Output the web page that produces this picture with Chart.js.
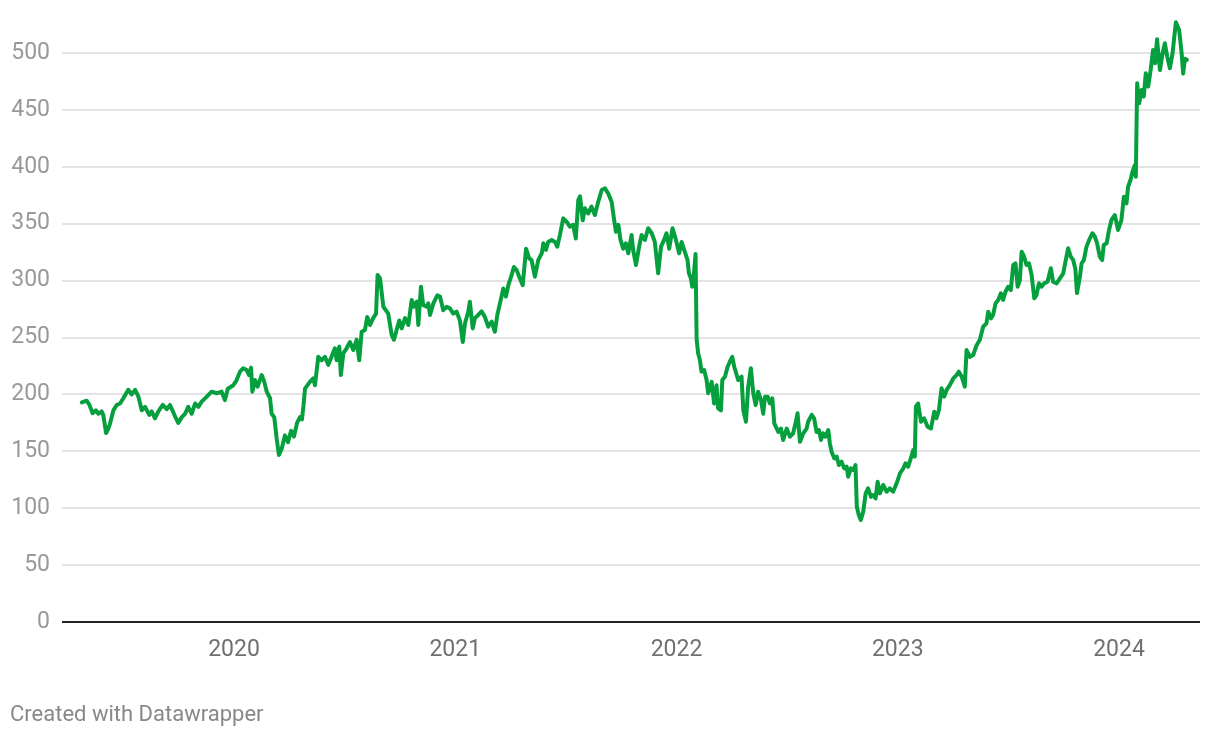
<!DOCTYPE html>
<html>
<head>
<meta charset="utf-8">
<script src="https://cdn.jsdelivr.net/npm/chart.js@4.4.1/dist/chart.umd.min.js"></script>
<style>
  body { margin: 0; background: #fff; }
  #wrap { position: relative; width: 1220px; height: 738px; }
  #credit {
    position: absolute; left: 10px; top: 701px;
    font: 22px Roboto, sans-serif; color: #888; line-height: 26px;
  }
</style>
</head>
<body>
<div id="wrap">
  <canvas id="priceChart" width="1220" height="738"></canvas>
  <div id="credit">Created with Datawrapper</div>
</div>
<script>
"use strict";

// dates as decimal years
const dates = [
  2019.312, 2019.334, 2019.346, 2019.361, 2019.376, 2019.387, 2019.402, 2019.409, 2019.422, 2019.432,
  2019.440, 2019.455, 2019.470, 2019.485, 2019.500, 2019.522, 2019.538, 2019.553, 2019.568, 2019.583,
  2019.598, 2019.617, 2019.628, 2019.643, 2019.658, 2019.678, 2019.696, 2019.711, 2019.733, 2019.748,
  2019.764, 2019.779, 2019.793, 2019.809, 2019.824, 2019.839, 2019.854, 2019.877, 2019.899, 2019.922,
  2019.944, 2019.959, 2019.972, 2019.997, 2020.012, 2020.027, 2020.042, 2020.057, 2020.068, 2020.077,
  2020.083, 2020.095, 2020.107, 2020.125, 2020.137, 2020.148, 2020.163, 2020.170, 2020.182, 2020.193,
  2020.203, 2020.216, 2020.230, 2020.244, 2020.258, 2020.271, 2020.285, 2020.298, 2020.307, 2020.314,
  2020.321, 2020.343, 2020.358, 2020.366, 2020.381, 2020.396, 2020.411, 2020.426, 2020.441, 2020.456,
  2020.464, 2020.476, 2020.483, 2020.494, 2020.509, 2020.524, 2020.539, 2020.554, 2020.566, 2020.577,
  2020.592, 2020.602, 2020.615, 2020.629, 2020.642, 2020.649, 2020.660, 2020.675, 2020.697, 2020.713,
  2020.723, 2020.735, 2020.747, 2020.758, 2020.773, 2020.788, 2020.803, 2020.813, 2020.826, 2020.833,
  2020.845, 2020.855, 2020.871, 2020.878, 2020.886, 2020.901, 2020.919, 2020.931, 2020.946, 2020.961,
  2020.976, 2020.991, 2021.006, 2021.021, 2021.034, 2021.044, 2021.059, 2021.066, 2021.079, 2021.089,
  2021.104, 2021.119, 2021.134, 2021.149, 2021.165, 2021.179, 2021.190, 2021.202, 2021.217, 2021.229,
  2021.240, 2021.255, 2021.265, 2021.278, 2021.289, 2021.305, 2021.320, 2021.334, 2021.345, 2021.360,
  2021.375, 2021.391, 2021.398, 2021.410, 2021.420, 2021.436, 2021.451, 2021.461, 2021.473, 2021.488,
  2021.503, 2021.518, 2021.533, 2021.545, 2021.556, 2021.564, 2021.576, 2021.586, 2021.601, 2021.616,
  2021.631, 2021.646, 2021.662, 2021.677, 2021.691, 2021.707, 2021.717, 2021.726, 2021.737, 2021.747,
  2021.759, 2021.771, 2021.782, 2021.797, 2021.804, 2021.817, 2021.831, 2021.842, 2021.857, 2021.872,
  2021.888, 2021.902, 2021.917, 2021.930, 2021.940, 2021.955, 2021.967, 2021.982, 2021.997, 2022.012,
  2022.023, 2022.038, 2022.050, 2022.056, 2022.065, 2022.071, 2022.079, 2022.086, 2022.091, 2022.098,
  2022.106, 2022.113, 2022.125, 2022.136, 2022.143, 2022.159, 2022.170, 2022.181, 2022.188, 2022.201,
  2022.207, 2022.219, 2022.231, 2022.241, 2022.252, 2022.261, 2022.279, 2022.294, 2022.302, 2022.314,
  2022.324, 2022.336, 2022.347, 2022.358, 2022.369, 2022.382, 2022.392, 2022.400, 2022.412, 2022.422,
  2022.433, 2022.442, 2022.460, 2022.472, 2022.482, 2022.498, 2022.513, 2022.527, 2022.538, 2022.547,
  2022.558, 2022.573, 2022.588, 2022.595, 2022.611, 2022.622, 2022.633, 2022.644, 2022.653, 2022.663,
  2022.674, 2022.686, 2022.693, 2022.701, 2022.713, 2022.724, 2022.734, 2022.746, 2022.758, 2022.769,
  2022.776, 2022.788, 2022.799, 2022.809, 2022.815, 2022.824, 2022.833, 2022.844, 2022.855, 2022.866,
  2022.879, 2022.889, 2022.900, 2022.909, 2022.919, 2022.934, 2022.950, 2022.964, 2022.979, 2022.995,
  2023.010, 2023.025, 2023.035, 2023.047, 2023.059, 2023.070, 2023.077, 2023.082, 2023.092, 2023.105,
  2023.119, 2023.135, 2023.150, 2023.165, 2023.175, 2023.186, 2023.198, 2023.210, 2023.221, 2023.236,
  2023.251, 2023.266, 2023.276, 2023.289, 2023.303, 2023.311, 2023.326, 2023.341, 2023.356, 2023.371,
  2023.386, 2023.401, 2023.409, 2023.421, 2023.431, 2023.442, 2023.454, 2023.466, 2023.476, 2023.487,
  2023.499, 2023.511, 2023.522, 2023.532, 2023.542, 2023.552, 2023.560, 2023.571, 2023.582, 2023.593,
  2023.605, 2023.617, 2023.627, 2023.638, 2023.650, 2023.662, 2023.677, 2023.692, 2023.702, 2023.718,
  2023.733, 2023.748, 2023.758, 2023.770, 2023.782, 2023.793, 2023.803, 2023.810, 2023.823, 2023.831,
  2023.841, 2023.853, 2023.865, 2023.880, 2023.891, 2023.901, 2023.913, 2023.924, 2023.931, 2023.944,
  2023.955, 2023.966, 2023.981, 2023.996, 2024.011, 2024.022, 2024.034, 2024.041, 2024.052, 2024.061,
  2024.072, 2024.076, 2024.082, 2024.091, 2024.102, 2024.112, 2024.121, 2024.132, 2024.143, 2024.154,
  2024.163, 2024.172, 2024.185, 2024.197, 2024.207, 2024.218, 2024.230, 2024.242, 2024.257, 2024.272,
  2024.283, 2024.290, 2024.298, 2024.307
];

const prices = [
  193, 194.5, 191, 183.5, 186, 183, 185, 182, 166, 170,
  174.6, 186, 190.7, 192, 196.6, 204, 200, 204, 198, 186,
  189, 182, 185, 179, 185, 190.7, 187, 190.7, 181, 175,
  180, 183, 189, 183, 192, 189, 193.6, 198, 202.4, 201,
  202.4, 195, 205, 208, 212.6, 220, 223, 221.4, 217, 223.5,
  202.4, 212.6, 206.8, 217, 211, 202.4, 196.6, 183, 180, 161,
  146.7, 152.6, 164, 158, 168, 163, 175, 180, 178, 190,
  205, 211, 214, 208, 233, 230, 233, 226, 233, 240.5,
  230, 242, 217, 236, 240.5, 246, 239, 248, 230, 255,
  256.6, 268, 261, 267, 271, 305, 302, 277, 271, 252,
  248, 256.6, 265, 258, 267, 261, 283, 277, 281.5, 261,
  294.6, 278.6, 277, 280, 269.8, 280, 287, 286, 274, 277,
  275.6, 271, 272.7, 265, 246, 262.5, 272.7, 281.5, 258, 267,
  269.8, 273, 268, 259.5, 264, 255, 269.8, 280, 293, 286,
  296, 305, 312, 309, 303.4, 296, 328, 319.6, 318, 303.4,
  318, 324, 332.8, 327, 334, 335.7, 334, 329.8, 340, 354.7,
  351.8, 347.4, 349, 337, 370.8, 374, 353, 363.5, 359, 365,
  357.6, 369, 379.6, 381, 376.7, 369, 354.7, 343, 349, 335.7,
  328, 332.8, 324, 340, 327, 313.7, 329.8, 340, 335.7, 346,
  341.6, 334, 306.4, 329.8, 334, 341.6, 328, 346, 336, 324,
  334, 325, 318, 306.4, 302, 294.6, 306.4, 323.4, 248, 236,
  230, 220, 221.4, 212.6, 201, 211, 192, 208, 187.8, 186,
  212.6, 215.6, 224.3, 228.7, 233, 224.3, 212.6, 215.6, 186, 176,
  206.8, 223, 201, 190.7, 202.4, 195, 183, 198, 198, 192,
  196.6, 174.6, 167, 170, 160, 170, 162.8, 165.8, 174.6, 183.4,
  158.4, 165.8, 170, 176, 182, 179, 167, 168.7, 160, 165.8,
  162.8, 168.7, 157, 149.6, 143.8, 145.3, 138, 140.9, 135, 136.5,
  127.7, 135, 133.6, 138, 101.3, 94, 89.6, 97, 113, 117.5,
  110, 111.6, 108.7, 123.3, 113, 120.4, 114.5, 117.5, 114.5, 121.9,
  130.7, 135, 139.5, 136.5, 143.8, 151, 145.3, 189.2, 192, 176,
  179, 171.6, 170, 184.8, 179, 186.3, 205.4, 198, 203.9, 208.3,
  214, 217, 220, 215.6, 206.8, 239, 233, 234.6, 243, 248,
  259.5, 262.5, 272.7, 266.8, 269.8, 280, 283, 288.8, 283, 290.2,
  294.6, 291.7, 313.7, 315.2, 294.6, 300.5, 325.4, 321, 313.7, 315.2,
  305, 284.4, 287.3, 297.6, 294.6, 297.6, 299, 310.8, 299, 297.6,
  302, 306.4, 316.7, 328.4, 321, 318, 310, 289, 303, 315.2,
  318, 329.8, 335.7, 341.6, 338.6, 332.8, 321, 318, 331.3, 332.8,
  344.5, 353.3, 357.6, 344.5, 353.3, 373.7, 367.9, 382.5, 388.4, 395.7,
  401.6, 391.3, 473.4, 455.8, 467.5, 461.6, 482.2, 470.5, 485.1, 502.7,
  491, 512, 485, 499.7, 508.5, 496.8, 486.6, 499.7, 527, 520,
  500, 482, 495, 494
];

const yearTicks = [2020, 2021, 2022, 2023, 2024];
const valueTicks = [0, 50, 100, 150, 200, 250, 300, 350, 400, 450, 500];

const lineGreen = "#05a03d";
const tickFont = { family: "Roboto", size: 23 };

const points = dates.map(function (d, i) {
  return { x: d, y: prices[i] };
});

const ctx = document.getElementById("priceChart").getContext("2d");

new Chart(ctx, {
  type: "line",
  data: {
    datasets: [
      {
        data: points,
        borderColor: lineGreen,
        borderWidth: 4,
        pointRadius: 0,
        tension: 0,
        clip: false,
        borderJoinStyle: "round",
        borderCapStyle: "round",
      },
    ],
  },
  options: {
    responsive: false,
    animation: false,
    events: [],
    layout: { padding: { top: 53, right: 20, bottom: 66, left: 0 } },
    plugins: {
      legend: { display: false },
      tooltip: { enabled: false },
    },
    scales: {
      x: {
        type: "linear",
        min: 2019.2226,
        max: 2024.3661,
        afterBuildTicks: function (scale) {
          scale.ticks = yearTicks.map(function (v) { return { value: v }; });
        },
        afterFit: function (scale) { scale.height = 50; },
        grid: { display: false, drawTicks: false },
        border: { display: false },
        ticks: {
          color: "#707070",
          font: tickFont,
          padding: 14,
          maxRotation: 0,
          callback: function (v) { return String(v); },
        },
      },
      y: {
        min: 0,
        max: 500,
        afterBuildTicks: function (scale) {
          scale.ticks = valueTicks.map(function (v) { return { value: v }; });
        },
        afterFit: function (scale) { scale.width = 62; },
        border: { display: false },
        grid: {
          drawTicks: false,
          color: function (c) { return c.tick && c.tick.value === 0 ? "#222222" : "#e3e3e3"; },
          lineWidth: 2,
        },
        ticks: {
          color: "#999999",
          font: tickFont,
          padding: 12,
          callback: function (v) { return String(v); },
        },
      },
    },
  },
});
</script>
</body>
</html>
